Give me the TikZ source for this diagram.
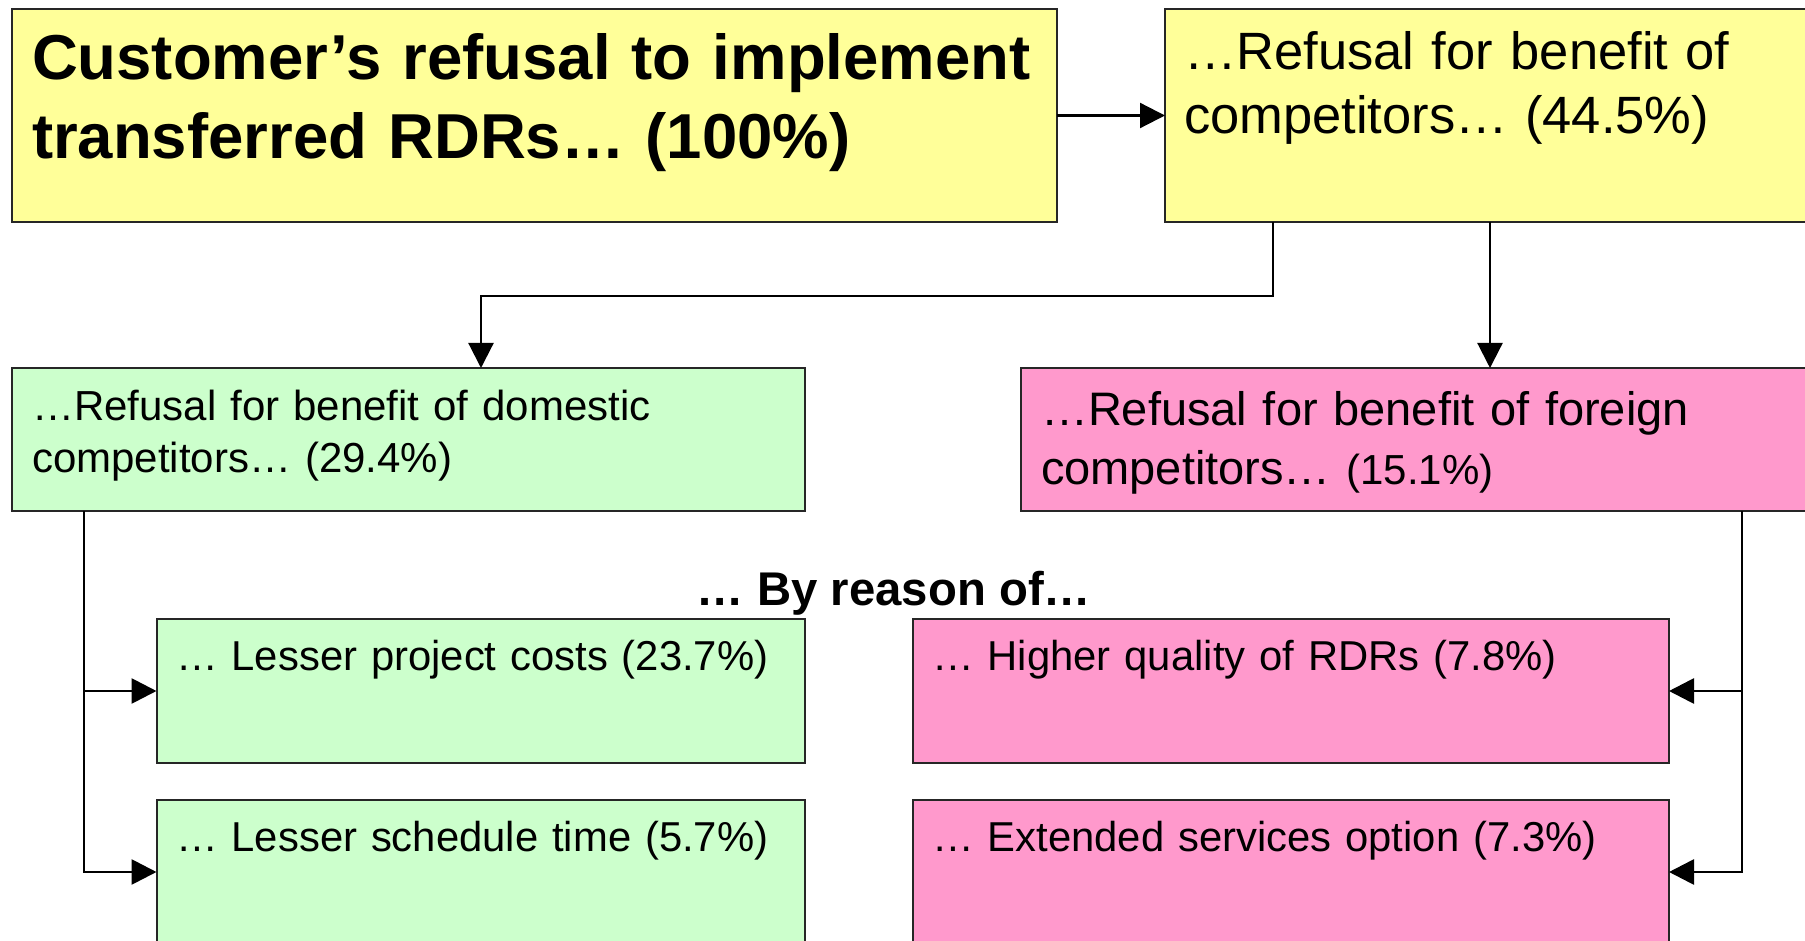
\documentclass[tikz,border=0pt]{standalone}
\usepackage{fontspec}
\setmainfont{Liberation Sans}
\usetikzlibrary{positioning,arrows.meta}
\definecolor{yel}{RGB}{255,255,153}
\definecolor{grn}{RGB}{204,255,204}
\definecolor{pnk}{RGB}{255,153,204}

\tikzset{
  box/.style={draw=black!85, line width=2pt, align=left, inner ysep=0pt, outer sep=0pt},
  rbox/.style={box, text height=51pt, text depth=93pt, font=\fontsize{41.8}{51}\selectfont},
  arr/.style={line width=2.2pt, -{Triangle[length=25pt,width=25pt]}},
  arrb/.style={line width=2.8pt, -{Triangle[length=25pt,width=25pt]}}
}

\begin{document}
\begin{tikzpicture}[x=1pt,y=1pt]
		\useasboundingbox (0,0) rectangle (1805,-941);
		\clip (0,0) rectangle (1805,-941);

		\node[box, fill=yel, anchor=north west, text width=1004.5pt, inner xsep=20.5pt, text height=71pt, text depth=142pt, font=\fontsize{63.5}{79}\selectfont\bfseries] (main) at (11.5,-9) {\mbox{Customer’s refusal to implement}\\transferred RDRs… (100\%)};
		\node[box, fill=yel, right=108pt of main, text width=662pt, inner xsep=19pt, text height=61pt, text depth=152pt, font=\fontsize{52.5}{64}\selectfont] (comp) {…Refusal for benefit of\\competitors… (44.5\%)};
		\node[box, fill=grn, below=146pt of main.south west, anchor=north west, text width=752.5pt, inner xsep=20.5pt, text height=52pt, text depth=91pt, font=\fontsize{42}{52}\selectfont] (dom) {…Refusal for benefit of domestic\\competitors… (29.4\%)};
		\node[box, fill=pnk, right=216pt of dom, text width=760pt, inner xsep=20pt, text height=57pt, text depth=86pt, font=\fontsize{47}{59}\selectfont] (frgn) {…Refusal for benefit of foreign\\competitors… {\fontsize{42}{59}\selectfont(15.1\%)}};

		\node[rbox, fill=grn, text width=609.5pt, inner xsep=19.5pt, below=108pt of dom.south east, anchor=north east] (cost) {… Lesser project costs (23.7\%)};
		\node[rbox, fill=grn, text width=609.5pt, inner xsep=19.5pt, below=37pt of cost] (sched) {… Lesser schedule time (5.7\%)};
		\node[rbox, fill=pnk, text width=718pt, inner xsep=19pt, right=108pt of cost] (qual) {… Higher quality of RDRs (7.8\%)};
		\node[rbox, fill=pnk, text width=718pt, inner xsep=19pt, right=108pt of sched] (serv) {… Extended services option (7.3\%)};

		\node[anchor=base, font=\fontsize{47.3}{57}\selectfont\bfseries] (why) at (894,-605) {… By reason of…};

		\coordinate (c1) at ([xshift=108pt]comp.south west);
		\coordinate (c2) at ([xshift=325pt]comp.south west);
		\coordinate (d1) at ([xshift=469.5pt]dom.north west);
		\coordinate (dl) at ([xshift=72.5pt]dom.south west);
		\coordinate (fr) at ([xshift=721pt]frgn.south west);

		\draw[arr] (main) -- (comp);
		\draw[arr] (c1) -- ++(0,-74) -| (d1);
		\draw[arr] (c2) -- (c2 |- frgn.north);
		\draw[arrb] (dl) |- (cost);
		\draw[arrb] (dl) |- (sched);
		\draw[arrb] (fr) |- (qual);
		\draw[arrb] (fr) |- (serv);
\end{tikzpicture}
\end{document}
